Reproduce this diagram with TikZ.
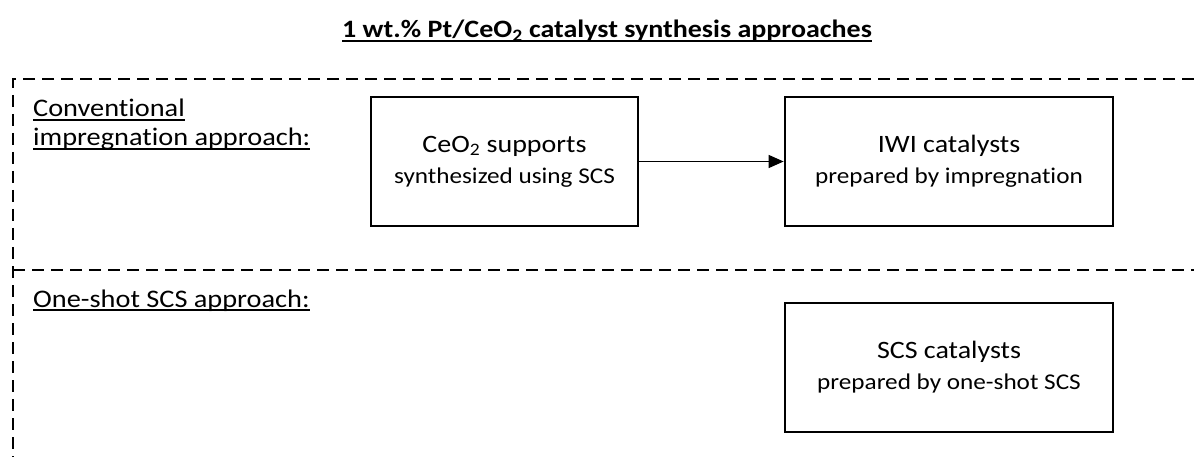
\documentclass[tikz,border=0pt]{standalone}
\usepackage{fontspec}
\setmainfont{Carlito}[FakeStretch=1.12,Ligatures=CommonOff]
\usetikzlibrary{arrows.meta,positioning}
\newcommand{\ulbl}[1]{\setbox0\hbox{#1}\rlap{\rule[-4pt]{\wd0}{1.6pt}}\box0}
\tikzset{
    stage/.style={draw=black,line width=2.8pt,inner sep=0pt,align=center,font=\fontsize{22.5}{31}\selectfont},
    flow/.style={-{Triangle[length=15pt,width=13pt]},line width=1.4pt},
    divider/.style={black,line width=2.7pt,dash pattern=on 12pt off 7pt},
    approach/.style={anchor=base west,inner sep=0pt,font=\fontsize{25.3}{28}\selectfont},
    heading/.style={anchor=base,inner sep=0pt,font=\fontsize{25}{28}\selectfont\bfseries}
}
\newcommand{\firstline}[1]{{\fontsize{25}{31}\selectfont #1}}
\begin{document}
\begin{tikzpicture}[x=1pt,y=-1pt]
\useasboundingbox (0,0) rectangle (1194,457);
\node[heading] (title) at (607,38) {\ulbl{1 wt.\% Pt/CeO\textsubscript{2} catalyst synthesis approaches}};
\coordinate (nw) at (13,79);
\coordinate (ne) at (1194,79);
\coordinate (sw) at (13,457);
\coordinate (mw) at (13,270);
\coordinate (me) at (1194,270);
\draw[divider] (ne)--(nw)--(sw);
\draw[divider] (mw)--(me);
\node[approach] (conv1) at (33,117) {\ulbl{Conventional}};
\node[approach] (conv2) at (33,146) {\ulbl{impregnation approach:}};
\node[approach] (oneshot) at (33,307) {\ulbl{One-shot SCS approach:}};
\node[stage,minimum width=267pt,minimum height=129pt] (support) at (504.5,161.5) {\firstline{CeO\textsubscript{2} supports}\\synthesized using SCS};
\node[stage,minimum width=328pt,minimum height=129pt] (iwi) at (949,161.5) {\firstline{IWI catalysts}\\prepared by impregnation};
\node[stage,minimum width=328pt,minimum height=129pt] (scs) at (949,367.5) {\firstline{SCS catalysts}\\prepared by one-shot SCS};
\draw[flow] (support)--(iwi);
\end{tikzpicture}
\end{document}
